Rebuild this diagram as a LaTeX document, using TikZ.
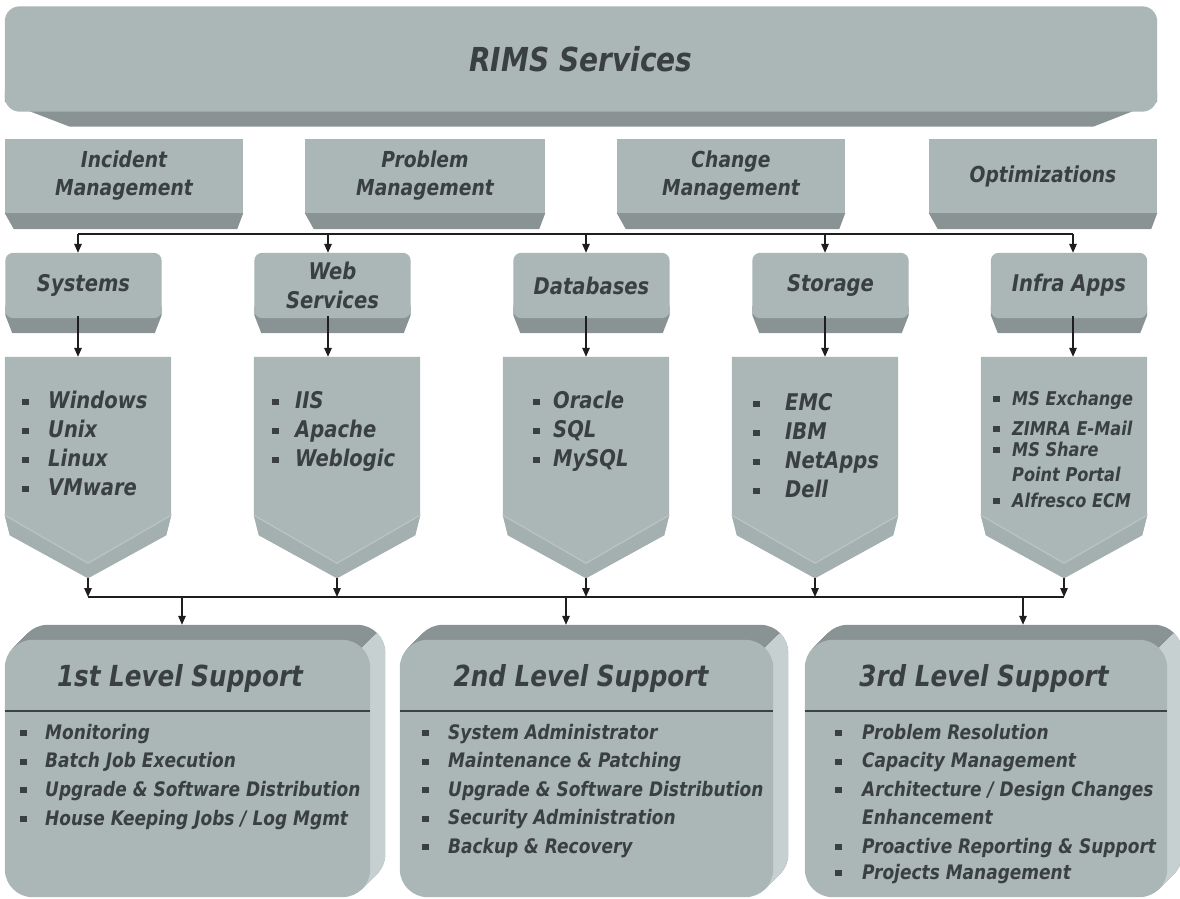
\documentclass[tikz,border=0pt]{standalone}
\usepackage{fontspec}
\setmainfont{DejaVu Sans}[FakeStretch=0.85]
\usetikzlibrary{arrows.meta,calc}
\pgfdeclarelayer{bg}
\pgfsetlayers{bg,main}
\definecolor{face}{RGB}{171,182,182}
\definecolor{bev}{RGB}{137,147,147}
\definecolor{lite}{RGB}{198,208,208}
\definecolor{band}{RGB}{164,175,175}
\definecolor{bandline}{RGB}{186,196,196}
\definecolor{txt}{RGB}{58,64,66}
\definecolor{ln}{RGB}{30,30,30}
\definecolor{dv}{RGB}{60,66,66}
\newcommand\ff[2]{\fontsize{#1}{#2}\selectfont\bfseries\itshape}
\newcommand\blt{\rule[3pt]{7pt}{6pt}}
\newcommand\itm[2]{\hbox{\makebox[#1][l]{\blt}#2}}
\newcommand\ntm[2]{\hbox{\hspace*{#1}#2}}
\newcommand\mgshape[1]{%
  \fill[bev] (#1.south west) -- (#1.south east) -- ($(#1.south east)+(-6,16)$) -- ($(#1.south west)+(9,16)$) -- cycle;
  \fill[face] (#1.north west) rectangle (#1.south east);}
\newcommand\catshape[1]{%
  \fill[bev] ($(#1.south west)+(0,-12)$) -- ($(#1.south east)+(0,-12)$) -- ($(#1.south east)+(0,-3)$) -- ($(#1.south east)+(-7,15)$) -- ($(#1.south west)+(7,15)$) -- ($(#1.south west)+(0,-3)$) -- cycle;
  \fill[face, rounded corners=8] (#1.north west) rectangle (#1.south east);}
\newcommand\pentshape[1]{%
  \fill[face] (#1.north west) -- (#1.north east) -- ($(#1.south east)+(0,-63)$) -- ($(#1.south east)+(-5,-43)$) -- (#1.south) -- ($(#1.south west)+(5,-43)$) -- ($(#1.south west)+(0,-63)$) -- cycle;
  \fill[band] ($(#1.south west)+(0,-63)$) -- ($(#1.south)+(0,-15)$) -- ($(#1.south east)+(0,-63)$) -- ($(#1.south east)+(-5,-43)$) -- (#1.south) -- ($(#1.south west)+(5,-43)$) -- cycle;
  \draw[bandline, line width=1.2pt] ($(#1.south west)+(0,-63)$) -- ($(#1.south)+(0,-15)$) -- ($(#1.south east)+(0,-63)$);}
\newcommand\supshape[1]{%
  \foreach \t in {1,...,15} {\fill[bev, rounded corners=28] ($(#1.north west)+(\t,-\t)$) rectangle ($(#1.south east)+(\t,-\t)$);}
  \begin{scope}
    \clip ($(#1.north east)+(-40,40)$) -- ($(#1.north east)+(40,-40)$) -- ($(#1.south east)+(40,5)$) -- ($(#1.south east)+(-40,5)$) -- cycle;
    \foreach \t in {1,...,15} {\fill[lite, rounded corners=28] ($(#1.north west)+(\t,-\t)$) rectangle ($(#1.south east)+(\t,-\t)$);}
  \end{scope}
  \fill[face, rounded corners=28] (#1.north west) rectangle (#1.south east);
  \draw[divider] ($(#1.north west)+(0,71)$) -- ($(#1.north east)+(0,71)$);}
\tikzset{
  lbl/.style={inner sep=0pt, text=txt},
  bannerbox/.style={lbl, minimum width=1152pt, minimum height=105pt, font=\ff{33}{40}},
  mgbox/.style={lbl, minimum height=74pt, align=center, font=\ff{22}{28}},
  catbox/.style={lbl, minimum width=156pt, minimum height=65pt, align=center, font=\ff{23}{29}},
  pentbox/.style={inner sep=0pt, minimum width=166pt, minimum height=221pt},
  supbox/.style={inner sep=0pt, minimum height=257pt},
  lst/.style={lbl, anchor=base west},
  ttl/.style={lbl, anchor=base, font=\ff{29}{35}},
  arr/.style={draw=ln, line width=1.4pt, -{Triangle[length=9pt,width=7.5pt]}},
  busline/.style={draw=ln, line width=1.6pt},
  divider/.style={draw=dv, line width=1.6pt}
}
\begin{document}
\begin{tikzpicture}[x=1pt,y=-1pt]
\useasboundingbox (0,0) rectangle (1180,899);
\clip (0,0) rectangle (1180,899);
% banner
\node[bannerbox] (rims) at (581,59) {RIMS Services};
% management row
\node[mgbox, minimum width=238pt] (inc) at (124,176) {Incident\\Management};
\node[mgbox, minimum width=240pt] (prob) at (425,176) {Problem\\Management};
\node[mgbox, minimum width=228pt] (chg) at (731,176) {Change\\Management};
\node[mgbox, minimum width=228pt] (opt) at (1043,176) {Optimizations};
% categories
\node[catbox] (sys) at (83.5,285.5) {Systems};
\node[catbox] (web) at (332.5,285.5) {Web\\Services};
\node[catbox] (db) at (591.5,285.5) {Databases};
\node[catbox] (sto) at (830.5,285.5) {Storage};
\node[catbox] (inf) at (1069,285.5) {Infra Apps};
% pentagons
\node[pentbox] (sysp) at (88,467.5) {};
\node[pentbox] (webp) at (337,467.5) {};
\node[pentbox] (dbp) at (586,467.5) {};
\node[pentbox] (stop) at (815,467.5) {};
\node[pentbox] (infp) at (1064,467.5) {};
% lists in pentagons
\node[lst, font=\ff{23}{29}] (sysl) at (22,408) {\vtop{\baselineskip=29pt \itm{26pt}{Windows}\itm{26pt}{Unix}\itm{26pt}{Linux}\itm{26pt}{VMware}}};
\node[lst, font=\ff{23}{29}] (webl) at (272,408) {\vtop{\baselineskip=29pt \itm{23pt}{IIS}\itm{23pt}{Apache}\itm{23pt}{Weblogic}}};
\node[lst, font=\ff{23}{29}] (dbl) at (533,408) {\vtop{\baselineskip=29pt \itm{20pt}{Oracle}\itm{20pt}{SQL}\itm{20pt}{MySQL}}};
\node[lst, font=\ff{23}{29}] (stol) at (753,410) {\vtop{\baselineskip=29pt \itm{32pt}{EMC}\itm{32pt}{IBM}\itm{32pt}{NetApps}\itm{32pt}{Dell}}};
\node[lst, font=\ff{19}{30}] (infl) at (993,405) {\vtop{\baselineskip=30pt \itm{19pt}{MS Exchange}\itm{19pt}{ZIMRA E-Mail}\baselineskip=21pt \itm{19pt}{MS Share}\baselineskip=25pt \ntm{19pt}{Point Portal}\baselineskip=26pt \itm{19pt}{Alfresco ECM}}};
% support boxes
\node[supbox, minimum width=365pt] (l1) at (187.5,768.5) {};
\node[supbox, minimum width=373pt] (l2) at (586.5,768.5) {};
\node[supbox, minimum width=362pt] (l3) at (986,768.5) {};
\node[ttl] (l1t) at (180,686) {1st Level Support};
\node[ttl] (l2t) at (581,686) {2nd Level Support};
\node[ttl] (l3t) at (984,686) {3rd Level Support};
\node[lst, font=\ff{20}{29}] (l1l) at (20,739) {\vtop{\baselineskip=28.7pt \itm{25pt}{Monitoring}\itm{25pt}{Batch Job Execution}\itm{25pt}{Upgrade \& Software Distribution}\itm{25pt}{House Keeping Jobs / Log Mgmt}}};
\node[lst, font=\ff{20}{29}] (l2l) at (422,739) {\vtop{\baselineskip=28.5pt \itm{26pt}{System Administrator}\itm{26pt}{Maintenance \& Patching}\itm{26pt}{Upgrade \& Software Distribution}\itm{26pt}{Security Administration}\itm{26pt}{Backup \& Recovery}}};
\node[lst, font=\ff{20}{29}] (l3l) at (835,739) {\vtop{\baselineskip=28.5pt \itm{27pt}{Problem Resolution}\itm{27pt}{Capacity Management}\itm{27pt}{Architecture / Design Changes}\ntm{27pt}{Enhancement}\itm{27pt}{Proactive Reporting \& Support}\baselineskip=26pt \itm{27pt}{Projects Management}}};
% connectors: top bus
\coordinate (t1) at (78,234);
\coordinate (t2) at (328,234);
\coordinate (t3) at (586,234);
\coordinate (t4) at (825,234);
\coordinate (t5) at (1073,234);
\draw[busline] (t1) -- (t5);
\foreach \a/\b/\c in {t1/sys/sysp, t2/web/webp, t3/db/dbp, t4/sto/stop, t5/inf/infp} {
  \draw[arr] (\a) -- (\a |- \b.north);
  \draw[arr] ($(\a |- \b.south)+(0,-2)$) -- (\a |- \c.north);
}
% bottom bus
\coordinate (bb) at (0,597);
\foreach \c in {sysp,webp,dbp,stop,infp} {\draw[arr] (\c.south) -- (\c.south |- bb);}
\draw[busline] (sysp.south |- bb) -- (infp.south |- bb);
\coordinate (d1) at (182,597);
\coordinate (d2) at (566,597);
\coordinate (d3) at (1023,597);
\draw[arr] (d1) -- ($(d1 |- l1.north)+(0,-15)$);
\draw[arr] (d2) -- ($(d2 |- l2.north)+(0,-15)$);
\draw[arr] (d3) -- ($(d3 |- l3.north)+(0,-15)$);
% shapes on background
\begin{pgfonlayer}{bg}
  \fill[white] (0,0) rectangle (1180,899);
  \fill[bev] ($(rims.south west)+(0,-20)$) -- ($(rims.south east)+(0,-20)$) -- ($(rims.south east)+(0,-10)$) -- ($(rims.south east)+(-64,15)$) -- ($(rims.south west)+(65,15)$) -- ($(rims.south west)+(0,-10)$) -- cycle;
  \fill[face, rounded corners=15] (rims.north west) rectangle (rims.south east);
  \foreach \n in {inc,prob,chg,opt} {\mgshape{\n}}
  \foreach \n in {sys,web,db,sto,inf} {\catshape{\n}}
  \foreach \n in {sysp,webp,dbp,stop,infp} {\pentshape{\n}}
  \foreach \n in {l1,l2,l3} {\supshape{\n}}
\end{pgfonlayer}
\end{tikzpicture}
\end{document}
